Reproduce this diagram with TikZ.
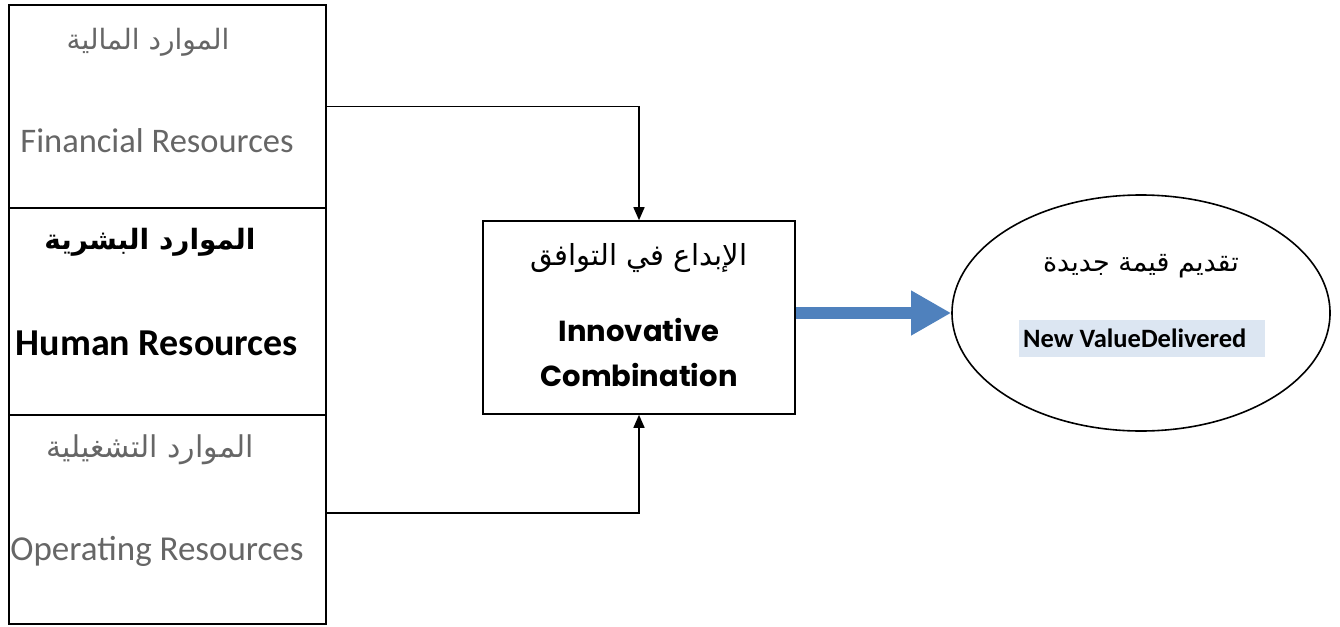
\documentclass[tikz,border=0pt]{standalone}
\usepackage{fontspec}
\setmainfont{Carlito}
\newfontfamily\arabicfont[Script=Arabic]{DejaVu Sans}
\newfontfamily\gothic{Poppins}
\TeXXeTstate=1
\usetikzlibrary{arrows.meta,shapes.geometric}
\definecolor{txtgray}{HTML}{666666}
\definecolor{arrowblue}{HTML}{4F81BD}
\definecolor{lightbg}{HTML}{DCE6F2}
\begin{document}
\begin{tikzpicture}[x=1pt,y=-1pt,
  box/.style={draw=black,line width=1.6pt,rectangle,inner sep=0pt},
  txt/.style={inner sep=0pt,anchor=center},
  conn/.style={line width=1.6pt,-{Triangle[length=13pt,width=11pt]}}]
\useasboundingbox (0,0) rectangle (1340,626);
% left column
\node[box,minimum width=317pt,minimum height=203pt] (fin) at (167.5,106.5) {};
\node[box,minimum width=317pt,minimum height=207pt] (hum) at (167.5,311.5) {};
\node[box,minimum width=317pt,minimum height=209pt] (ops) at (167.5,519.5) {};
\node[txt,text=txtgray,font=\arabicfont\fontsize{28}{32}\selectfont] (finar) at (148,42) {\beginR الموارد المالية\endR};
\node[txt,text=txtgray,font=\fontsize{34.5}{40}\selectfont] (finen) at (157,141) {Financial Resources};
\node[txt,text=black,font=\arabicfont\bfseries\fontsize{28}{32}\selectfont] (humar) at (150,242) {\beginR الموارد البشرية\endR};
\node[txt,text=black,font=\bfseries\fontsize{38}{44}\selectfont] (humen) at (157,343) {Human Resources};
\node[txt,text=txtgray,font=\arabicfont\fontsize{30}{34}\selectfont] (opsar) at (150,450) {\beginR الموارد التشغيلية\endR};
\node[txt,text=txtgray,font=\fontsize{35}{40}\selectfont] (opsen) at (157,551) {Operating Resources};
% middle box
\node[box,minimum width=312pt,minimum height=193pt] (mid) at (639,317.5) {};
\node[txt,font=\arabicfont\fontsize{29}{33}\selectfont] (midar) at (639,258) {\beginR الإبداع في التوافق\endR};
\node[txt,font=\gothic\bfseries\fontsize{29}{33}\selectfont] (midin) at (639,330) {Innovative};
\node[txt,font=\gothic\bfseries\fontsize{29}{33}\selectfont] (midco) at (639,375) {Combination};
% ellipse
\node[draw=black,line width=1.6pt,ellipse,minimum width=378pt,minimum height=236pt,inner sep=0pt] (val) at (1141,313) {};
\node[txt,font=\arabicfont\fontsize{27}{31}\selectfont] (valar) at (1141,266) {\beginR تقديم قيمة جديدة\endR};
\node[fill=lightbg,minimum width=246pt,minimum height=37pt,inner sep=0pt] (valbg) at (1142,338.5) {};
\node[txt,font=\bfseries\fontsize{26.5}{30}\selectfont,anchor=west] (valen) at (1023,338) {New ValueDelivered};
% connectors
\coordinate (opsout) at (326,513);
\draw[conn] (fin.east) -| (mid.north);
\draw[conn] (opsout) -| (mid.south);
\draw[arrowblue,line width=12pt,-{Triangle[length=40pt,width=42pt]}] (mid.east |- val.west) -- (val.west);
\end{tikzpicture}
\end{document}
